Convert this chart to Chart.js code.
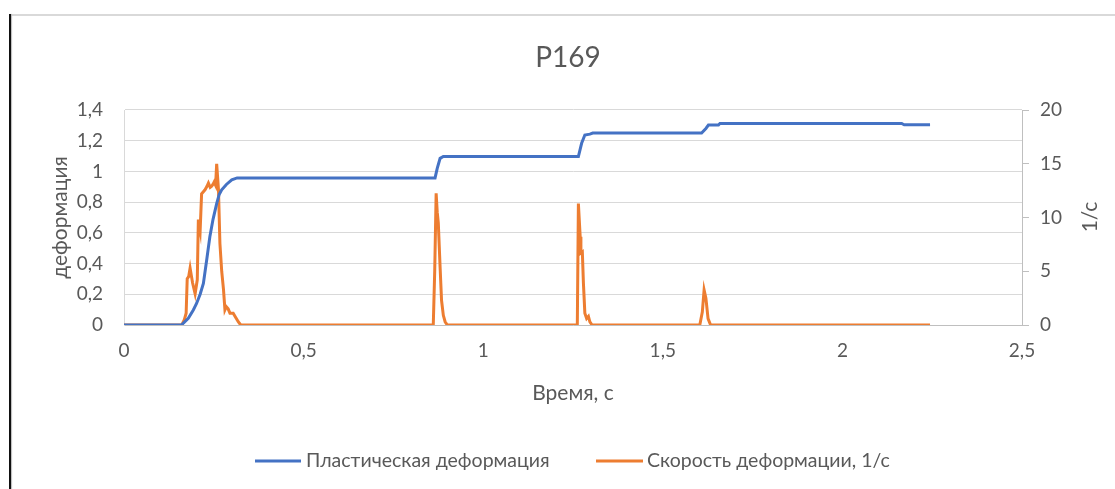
<!DOCTYPE html>
<html>
<head>
<meta charset="utf-8">
<script src="https://cdn.jsdelivr.net/npm/chart.js@4/dist/chart.umd.min.js"></script>
<style>
  html, body { margin: 0; padding: 0; background: #ffffff; }
  #wrap { position: relative; width: 1115px; height: 489px; overflow: hidden; }
  #c { position: absolute; left: 0; top: 0; }
  #edgeLeft { position: absolute; left: 9px; top: 14px; width: 2px; height: 475px; background: #111; box-shadow: 1px 0 1px #bbb; }
  #edgeTop { position: absolute; left: 10px; top: 14px; width: 1105px; height: 2px; background: #d9d9d9; }
</style>
</head>
<body>
<div id="wrap">
  <canvas id="c" width="1115" height="489"></canvas>
  <div id="edgeTop"></div>
  <div id="edgeLeft"></div>
</div>
<script>
// Chart texts
const chartTitle = 'P169';
const seriesNames = ['Пластическая деформация', 'Скорость деформации, 1/с'];
const xAxisTitle = 'Время, с';
const yLeftTitle = 'деформация';
const yRightTitle = '1/с';

// Tick labels
const xTickLabels = ['0', '0,5', '1', '1,5', '2', '2,5'];
const yLeftTickLabels = ['0', '0,2', '0,4', '0,6', '0,8', '1', '1,2', '1,4'];
const yRightTickLabels = ['0', '5', '10', '15', '20'];

// Plastic deformation vs time (left axis)
const plasticTime = [0, 0.16, 0.179, 0.193, 0.202, 0.212, 0.221, 0.23, 0.239, 0.248, 0.258, 0.265, 0.272, 0.285, 0.30, 0.315,
  0.866, 0.872, 0.880, 0.889, 1.265, 1.274, 1.283, 1.297, 1.305, 1.608, 1.620, 1.627, 1.655, 1.659, 2.165, 2.172, 2.244];
const plasticValue = [0, 0, 0.044, 0.098, 0.14, 0.2, 0.27, 0.42, 0.575, 0.69, 0.79, 0.85, 0.88, 0.915, 0.945, 0.958,
  0.958, 1.02, 1.085, 1.097, 1.097, 1.183, 1.237, 1.243, 1.25, 1.25, 1.28, 1.302, 1.302, 1.312, 1.312, 1.304, 1.304];

// Strain rate vs time, 1/s (right axis)
const rateTime = [0, 0.161, 0.168, 0.173, 0.176, 0.180, 0.184, 0.188, 0.191, 0.198, 0.204, 0.207, 0.212, 0.216, 0.221, 0.226,
  0.231, 0.235, 0.240, 0.244, 0.248, 0.251, 0.255, 0.258, 0.263, 0.267, 0.272, 0.277, 0.281, 0.285, 0.290, 0.295, 0.304,
  0.311, 0.318, 0.325,
  0.861, 0.865, 0.869, 0.872, 0.875, 0.880, 0.884, 0.889, 0.894, 0.900,
  1.262, 1.265, 1.270, 1.272, 1.276, 1.279, 1.283, 1.288, 1.293, 1.297, 1.303,
  1.603, 1.610, 1.615, 1.620, 1.626, 1.633, 2.244];
const rateValue = [0, 0, 0.5, 1.1, 4.3, 4.5, 5.3, 4.5, 3.9, 2.9, 4.2, 9.8, 8.8, 12.2, 12.4, 12.6,
  12.9, 13.2, 12.8, 12.9, 13.1, 13.3, 13.0, 15.0, 12.6, 7.6, 5.0, 3.3, 1.4, 1.7, 1.5, 1.1, 1.1,
  0.7, 0.3, 0,
  0, 5.0, 12.25, 10.5, 9.5, 5.4, 2.3, 0.9, 0.3, 0,
  0, 11.3, 8.2, 6.7, 6.8, 3.9, 1.1, 0.6, 0.8, 0.3, 0,
  0, 1.2, 3.26, 2.5, 0.6, 0, 0];

const FONT = 'Lato, "Liberation Sans", sans-serif';
const TEXT = '#595959';
const BLUE = '#4472C4';
const ORANGE = '#ED7D31';

const toPoints = (xs, ys) => xs.map((x, i) => ({ x: x, y: ys[i] }));

// Title, right-axis title and legend painted on the canvas
const decorations = {
  id: 'decorations',
  afterDraw(chart) {
    const ctx = chart.ctx;
    ctx.save();
    ctx.fillStyle = TEXT;
    ctx.textBaseline = 'middle';
    ctx.textAlign = 'center';
    ctx.font = '28px ' + FONT;
    ctx.fillText(chartTitle, 568, 58);

    // secondary axis title, reading bottom to top
    ctx.save();
    ctx.translate(1090, 217);
    ctx.rotate(-Math.PI / 2);
    ctx.font = '21px ' + FONT;
    ctx.fillText(yRightTitle, 0, 0);
    ctx.restore();

    // legend
    const items = [{ x0: 255, x1: 301, tx: 306 }, { x0: 596, x1: 643, tx: 647 }];
    ctx.textAlign = 'left';
    ctx.font = '19.5px ' + FONT;
    chart.data.datasets.forEach((ds, i) => {
      const it = items[i];
      ctx.strokeStyle = ds.borderColor;
      ctx.lineWidth = 3;
      ctx.beginPath();
      ctx.moveTo(it.x0, 461);
      ctx.lineTo(it.x1, 461);
      ctx.stroke();
      ctx.fillStyle = TEXT;
      ctx.fillText(ds.label, it.tx, 461);
    });
    ctx.restore();
  }
};

new Chart(document.getElementById('c'), {
  type: 'line',
  data: {
    datasets: [
      {
        label: seriesNames[0],
        data: toPoints(plasticTime, plasticValue),
        borderColor: BLUE,
        backgroundColor: BLUE,
        borderWidth: 3,
        pointRadius: 0,
        tension: 0,
        yAxisID: 'y'
      },
      {
        label: seriesNames[1],
        data: toPoints(rateTime, rateValue),
        borderColor: ORANGE,
        backgroundColor: ORANGE,
        borderWidth: 3,
        pointRadius: 0,
        tension: 0,
        yAxisID: 'y1'
      }
    ]
  },
  options: {
    responsive: false,
    animation: false,
    layout: { padding: { top: 110, left: 0, right: 0, bottom: 0 } },
    plugins: {
      legend: { display: false },
      title: { display: false },
      tooltip: { enabled: false }
    },
    scales: {
      x: {
        type: 'linear',
        min: 0,
        max: 2.5,
        afterFit: s => { s.height = 164; },
        afterBuildTicks: s => { s.ticks = xTickLabels.map((_, i) => ({ value: i * 0.5 })); },
        ticks: {
          autoSkip: false,
          maxRotation: 0,
          padding: 14,
          color: TEXT,
          font: { family: FONT, size: 19 },
          callback: (v, i) => xTickLabels[i]
        },
        grid: { display: false, drawTicks: false },
        border: { display: true, color: '#bfbfbf', width: 1 },
        title: {
          display: true,
          text: xAxisTitle,
          color: TEXT,
          font: { family: FONT, size: 21 },
          padding: { top: 0, bottom: 83.4 }
        }
      },
      y: {
        position: 'left',
        min: 0,
        max: 1.4,
        afterFit: s => { s.width = 124; },
        afterBuildTicks: s => { s.ticks = yLeftTickLabels.map((_, i) => ({ value: i * 0.2 })); },
        ticks: {
          autoSkip: false,
          padding: 21,
          color: TEXT,
          font: { family: FONT, size: 19 },
          callback: (v, i) => yLeftTickLabels[i]
        },
        grid: { color: '#d9d9d9', lineWidth: 1, drawTicks: false },
        border: { display: true, color: '#d9d9d9', width: 1 },
        title: {
          display: true,
          text: yLeftTitle,
          color: TEXT,
          font: { family: FONT, size: 21 },
          padding: { top: 47.4, bottom: 0 }
        }
      },
      y1: {
        position: 'right',
        min: 0,
        max: 20,
        afterFit: s => { s.width = 93; },
        afterBuildTicks: s => { s.ticks = yRightTickLabels.map((_, i) => ({ value: i * 5 })); },
        ticks: {
          autoSkip: false,
          padding: 11,
          color: TEXT,
          font: { family: FONT, size: 19 },
          callback: (v, i) => yRightTickLabels[i]
        },
        grid: { drawOnChartArea: false, drawTicks: true, tickLength: 7, color: '#bfbfbf' },
        border: { display: true, color: '#bfbfbf', width: 1 }
      }
    }
  },
  plugins: [decorations]
});
</script>
</body>
</html>
